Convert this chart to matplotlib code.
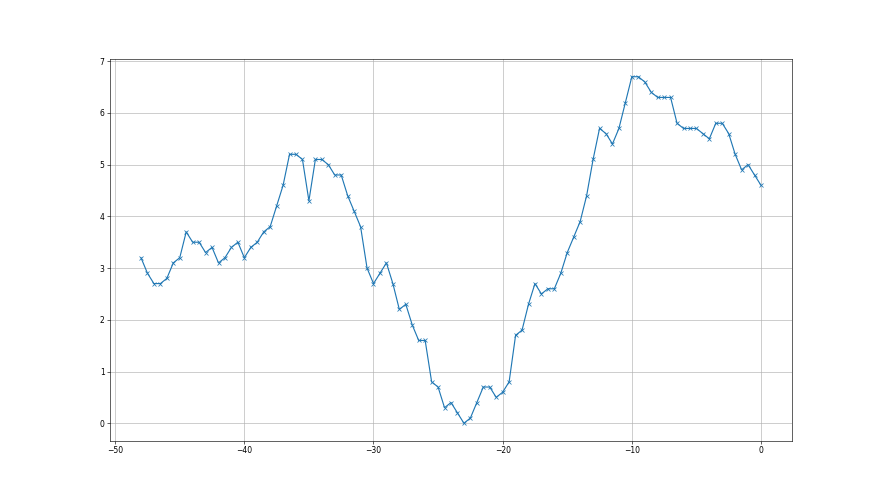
import numpy as np
import matplotlib
matplotlib.use("Agg")
import matplotlib.pyplot as plt

x_start = -48.0
x_step = 0.5
values = [3.2, 2.9, 2.7, 2.7, 2.8, 3.1, 3.2, 3.7, 3.5, 3.5,
          3.3, 3.4, 3.1, 3.2, 3.4, 3.5, 3.2, 3.4, 3.5, 3.7,
          3.8, 4.2, 4.6, 5.2, 5.2, 5.1, 4.3, 5.1, 5.1, 5.0,
          4.8, 4.8, 4.4, 4.1, 3.8, 3.0, 2.7, 2.9, 3.1, 2.7,
          2.2, 2.3, 1.9, 1.6, 1.6, 0.8, 0.7, 0.3, 0.4, 0.2,
          0.0, 0.1, 0.4, 0.7, 0.7, 0.5, 0.6, 0.8, 1.7, 1.8,
          2.3, 2.7, 2.5, 2.6, 2.6, 2.9, 3.3, 3.6, 3.9, 4.4,
          5.1, 5.7, 5.6, 5.4, 5.7, 6.2, 6.7, 6.7, 6.6, 6.4,
          6.3, 6.3, 6.3, 5.8, 5.7, 5.7, 5.7, 5.6, 5.5, 5.8,
          5.8, 5.6, 5.2, 4.9, 5.0, 4.8, 4.6]
x = x_start + x_step * np.arange(len(values))

fig, ax = plt.subplots(figsize=(16, 9), dpi=55)
ax.plot(x, values, marker='x', color='#1f77b4')
ax.grid(True)
ax.set_xticks([-50, -40, -30, -20, -10, 0])
ax.set_yticks(range(0, 8))
fig.savefig("out.png", dpi=55)
